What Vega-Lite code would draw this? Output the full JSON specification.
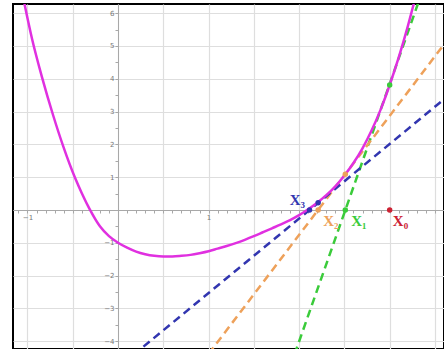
{
  "$schema": "https://vega.github.io/schema/vega-lite/v6.json",
  "width": 431,
  "height": 345,
  "autosize": {"type": "none"},
  "padding": {"left": 13, "top": 4, "right": 0, "bottom": 0},
  "background": "white",
  "config": {"view": {"stroke": "black", "strokeWidth": 2}},
  "datasets": {
    "curve": [
      {"x": -1.08, "y": 6.92}, {"x": -1.03, "y": 6.24}, {"x": -0.95, "y": 5.22},
      {"x": -0.84, "y": 4.05}, {"x": -0.716, "y": 2.88}, {"x": -0.604, "y": 1.93},
      {"x": -0.475, "y": 0.98}, {"x": -0.4, "y": 0.51}, {"x": -0.309, "y": 0.0},
      {"x": -0.2, "y": -0.5}, {"x": -0.1, "y": -0.8}, {"x": 0.0, "y": -1.0},
      {"x": 0.1, "y": -1.15}, {"x": 0.2, "y": -1.27}, {"x": 0.3, "y": -1.35},
      {"x": 0.4, "y": -1.4}, {"x": 0.5, "y": -1.42}, {"x": 0.6, "y": -1.42},
      {"x": 0.7, "y": -1.4}, {"x": 0.8, "y": -1.37}, {"x": 0.9, "y": -1.32},
      {"x": 1.0, "y": -1.26}, {"x": 1.1, "y": -1.18}, {"x": 1.2, "y": -1.1},
      {"x": 1.3, "y": -1.01}, {"x": 1.4, "y": -0.91}, {"x": 1.5, "y": -0.8},
      {"x": 1.6, "y": -0.68}, {"x": 1.7, "y": -0.56}, {"x": 1.8, "y": -0.44},
      {"x": 1.9, "y": -0.31}, {"x": 2.0, "y": -0.16}, {"x": 2.1, "y": 0.02},
      {"x": 2.2, "y": 0.22}, {"x": 2.3, "y": 0.45}, {"x": 2.4, "y": 0.72},
      {"x": 2.5, "y": 1.05}, {"x": 2.6, "y": 1.43}, {"x": 2.7, "y": 1.88},
      {"x": 2.8, "y": 2.42}, {"x": 2.9, "y": 3.06}, {"x": 3.0, "y": 3.81},
      {"x": 3.1, "y": 4.65}, {"x": 3.2, "y": 5.6}, {"x": 3.3, "y": 6.65}
    ],
    "tangents": [
      {"k": "x1", "x": 1.95, "y": -4.4}, {"k": "x1", "x": 3.32, "y": 6.35},
      {"k": "x2", "x": 1.0, "y": -4.39}, {"k": "x2", "x": 3.62, "y": 5.12},
      {"k": "x3", "x": 0.17, "y": -4.42}, {"k": "x3", "x": 3.62, "y": 3.42}
    ],
    "points": [
      {"k": "x0", "x": 3.0, "y": 0},
      {"k": "x1", "x": 2.51, "y": 0}, {"k": "x1", "x": 3.0, "y": 3.81},
      {"k": "x2", "x": 2.21, "y": 0}, {"k": "x2", "x": 2.51, "y": 1.09},
      {"k": "x3", "x": 2.115, "y": 0}, {"k": "x3", "x": 2.21, "y": 0.22}
    ],
    "labels": [
      {"k": "x3", "x": 1.98, "y": 0.3, "t": "X₃"},
      {"k": "x2", "x": 2.35, "y": -0.34, "t": "X₂"},
      {"k": "x1", "x": 2.66, "y": -0.34, "t": "X₁"},
      {"k": "x0", "x": 3.12, "y": -0.34, "t": "X₀"}
    ]
  },
  "resolve": {"axis": {"x": "independent", "y": "independent"}},
  "layer": [
    {
      "data": {"name": "tangents"},
      "mark": {"type": "line", "strokeDash": [8, 5], "strokeWidth": 2.5, "clip": true},
      "encoding": {
        "x": {"field": "x", "type": "quantitative",
          "scale": {"domain": [-1.16, 3.6], "nice": false, "zero": false},
          "axis": {"orient": "bottom", "offset": -139, "title": null, "grid": false, "labels": false,
            "values": [-1.1,-1,-0.9,-0.8,-0.7,-0.6,-0.5,-0.4,-0.3,-0.2,-0.1,0,0.1,0.2,0.3,0.4,0.5,0.6,0.7,0.8,0.9,1,1.1,1.2,1.3,1.4,1.5,1.6,1.7,1.8,1.9,2,2.1,2.2,2.3,2.4,2.5,2.6,2.7,2.8,2.9,3,3.1,3.2,3.3,3.4,3.5],
            "domainColor": "#a8a8a8", "domainWidth": 1, "tickColor": "#a8a8a8", "tickSize": 3, "tickWidth": 1}},
        "y": {"field": "y", "type": "quantitative",
          "scale": {"domain": [-4.24, 6.28], "nice": false, "zero": false},
          "axis": {"orient": "left", "offset": -105, "title": null, "grid": false, "labels": false,
            "values": [-4,-3.5,-3,-2.5,-2,-1.5,-1,-0.5,0,0.5,1,1.5,2,2.5,3,3.5,4,4.5,5,5.5,6],
            "domainColor": "#a8a8a8", "domainWidth": 1, "tickColor": "#a8a8a8", "tickSize": 3, "tickWidth": 1}},
        "color": {"field": "k", "type": "nominal", "legend": null,
          "scale": {"domain": ["x0", "x1", "x2", "x3"], "range": ["#cc2233", "#3acb3a", "#eea15a", "#3236b0"]}}
      }
    },
    {
      "data": {"name": "curve"},
      "mark": {"type": "line", "interpolate": "monotone", "color": "#e030e0", "strokeWidth": 2.5, "clip": true},
      "encoding": {
        "x": {"field": "x", "type": "quantitative",
          "axis": {"orient": "bottom", "title": null, "grid": true, "labels": false, "ticks": false, "domain": false,
            "values": [-1,-0.5,0,0.5,1,1.5,2,2.5,3,3.5], "gridColor": "#dedede", "gridWidth": 1.2}},
        "y": {"field": "y", "type": "quantitative",
          "axis": {"orient": "left", "title": null, "grid": true, "labels": false, "ticks": false, "domain": false,
            "values": [-4,-3,-2,-1,0,1,2,3,4,5,6], "gridColor": "#dedede", "gridWidth": 1.2}}
      }
    },
    {
      "data": {"name": "points"},
      "mark": {"type": "point", "filled": true, "size": 30, "opacity": 1},
      "encoding": {
        "x": {"field": "x", "type": "quantitative",
          "axis": {"orient": "bottom", "offset": -139, "title": null, "grid": false, "ticks": false, "domain": false,
            "values": [-1, 1], "labelFontSize": 7, "labelColor": "#777", "labelPadding": 3, "labelFont": "DejaVu Sans"}},
        "y": {"field": "y", "type": "quantitative",
          "axis": {"orient": "left", "offset": -105, "title": null, "grid": false, "ticks": false, "domain": false,
            "values": [-4,-3,-2,-1,1,2,3,4,5,6], "labelFontSize": 7, "labelColor": "#777", "labelPadding": 4, "labelFont": "DejaVu Sans"}},
        "color": {"field": "k", "type": "nominal", "legend": null}
      }
    },
    {
      "data": {"name": "labels"},
      "mark": {"type": "text", "font": "Liberation Serif", "fontWeight": "bold", "fontSize": 15, "align": "center", "baseline": "middle"},
      "encoding": {
        "x": {"field": "x", "type": "quantitative", "axis": null},
        "y": {"field": "y", "type": "quantitative", "axis": null},
        "text": {"field": "t"},
        "color": {"field": "k", "type": "nominal", "legend": null}
      }
    }
  ]
}
